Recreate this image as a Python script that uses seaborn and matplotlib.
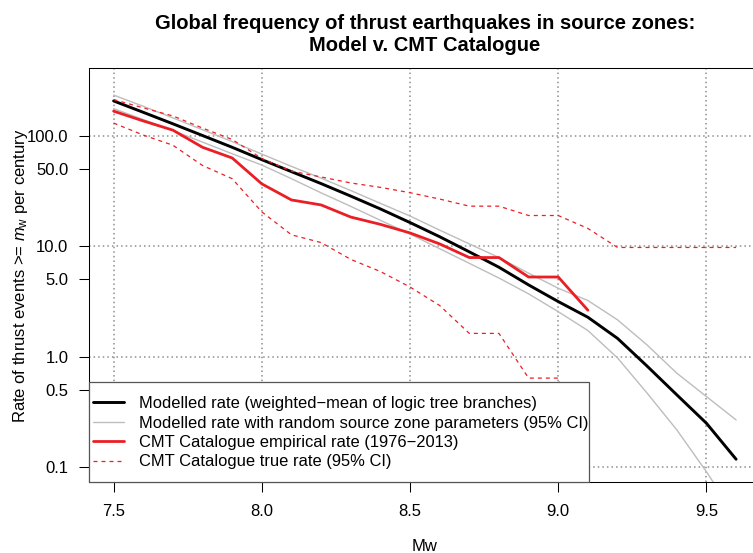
import numpy as np
import pandas as pd
import matplotlib
matplotlib.use("Agg")
import matplotlib.pyplot as plt
import seaborn as sns
from matplotlib.ticker import FixedLocator, FixedFormatter, NullLocator
from matplotlib.patches import Rectangle

# ---------------- data ----------------
mw = [7.5, 7.6, 7.7, 7.8, 7.9, 8.0, 8.1, 8.2, 8.3, 8.4, 8.5,
      8.6, 8.7, 8.8, 8.9, 9.0, 9.1, 9.2, 9.3, 9.4, 9.5, 9.6]
model_rate = [208, 164, 129, 101, 79, 61, 47.5, 37, 28.5, 21.8, 16.4,
              12.2, 8.9, 6.45, 4.46, 3.15, 2.27, 1.46, 0.817, 0.449, 0.248, 0.117]
model_upper = [235, 186, 146, 114, 89, 68.5, 53, 41.5, 32, 24.5, 18.8,
               14.0, 10.5, 7.9, 5.7, 4.16, 3.22, 2.15, 1.27, 0.706, 0.433, 0.266]
model_lower = [177, 141, 112, 88, 69, 54.5, 41, 30.5, 23, 17.2, 12.9,
               9.5, 7.0, 5.15, 3.7, 2.55, 1.72, 0.97, 0.465, 0.216, 0.09, 0.035]
cmt_rate = [168, 137, 113, 79, 63.2, 36.8, 26.3, 23.7, 18.4, 15.8, 13.2,
            10.5, 7.9, 7.9, 5.26, 5.26, 2.63, np.nan, np.nan, np.nan, np.nan, np.nan]
cmt_upper = [214, 180, 152, 118, 93, 62.5, 48, 42.5, 37.5, 34.2, 30.6,
             26.8, 23.1, 23.1, 19.0, 19.0, 14.5, 9.75, 9.75, 9.75, 9.75, 9.75]
cmt_lower = [131, 102, 82.5, 54, 41, 20.5, 12.7, 10.8, 7.6, 5.9, 4.27,
             2.9, 1.62, 1.62, 0.637, 0.637, 0.067, np.nan, np.nan, np.nan, np.nan, np.nan]

x_ticks = [7.5, 8.0, 8.5, 9.0, 9.5]
x_tick_labels = ["7.5", "8.0", "8.5", "9.0", "9.5"]
y_major = [0.1, 1, 10, 100]
y_major_labels = ["0.1", "1.0", "10.0", "100.0"]
y_minor = [0.5, 5, 50]
y_minor_labels = ["0.5", "5.0", "50.0"]

labels = ["Modelled rate (weighted\u2212mean of logic tree branches)",
          "Modelled rate with random source zone parameters (95% CI)",
          "CMT Catalogue empirical rate (1976\u22122013)",
          "CMT Catalogue true rate (95% CI)"]

df = pd.DataFrame({"mw": mw, "model": model_rate, "m_up": model_upper,
                   "m_lo": model_lower, "cmt": cmt_rate, "c_up": cmt_upper,
                   "c_lo": cmt_lower})

# ---------------- style ----------------
sns.set_style("ticks")
plt.rcParams["font.family"] = ["Liberation Sans", "DejaVu Sans"]
plt.rcParams["mathtext.fontset"] = "custom"
plt.rcParams["mathtext.rm"] = "Liberation Sans"
plt.rcParams["mathtext.it"] = "Liberation Sans:italic"
for k in ["text.color", "axes.labelcolor", "xtick.color", "ytick.color",
          "axes.edgecolor"]:
    plt.rcParams[k] = "black"
plt.rcParams["axes.linewidth"] = 0.75

W, H = 753, 553
fig = plt.figure(figsize=(W / 100, H / 100), dpi=100)
left_px, right_px, top_px, bot_px = 88.7, 761.0, 68.3, 482.3
ax = fig.add_axes([left_px / W, 1 - bot_px / H,
                   (right_px - left_px) / W, (bot_px - top_px) / H])
ax.set_yscale("log")

GRAY = "#BDBDBD"
RED = "#EA1F25"

sns.lineplot(data=df, x="mw", y="m_up", ax=ax, color=GRAY, lw=1.0,
             label=labels[1], zorder=2)
sns.lineplot(data=df, x="mw", y="m_lo", ax=ax, color=GRAY, lw=1.0,
             label="_nolegend_", zorder=2)
sns.lineplot(data=df, x="mw", y="model", ax=ax, color="black", lw=2.1,
             label=labels[0], zorder=3)
sns.lineplot(data=df, x="mw", y="cmt", ax=ax, color=RED, lw=2.0,
             label=labels[2], zorder=3)
sns.lineplot(data=df, x="mw", y="c_up", ax=ax, color=RED, lw=0.9,
             linestyle=(0, (3.2, 3.2)), label=labels[3], zorder=3)
sns.lineplot(data=df, x="mw", y="c_lo", ax=ax, color=RED, lw=0.9,
             linestyle=(0, (3.2, 3.2)), label="_nolegend_", zorder=3)

ax.set_xlim(7.416, 9.684)
ax.set_ylim(10 ** -1.141, 10 ** 2.614)

ax.xaxis.set_major_locator(FixedLocator(x_ticks))
ax.xaxis.set_major_formatter(FixedFormatter(x_tick_labels))
ax.xaxis.set_minor_locator(NullLocator())
ax.yaxis.set_major_locator(FixedLocator(y_major))
ax.yaxis.set_major_formatter(FixedFormatter(y_major_labels))
ax.yaxis.set_minor_locator(FixedLocator(y_minor))
ax.yaxis.set_minor_formatter(FixedFormatter(y_minor_labels))

fs = 12
ax.tick_params(axis="both", which="both", direction="out", length=7.4,
               width=0.75, labelsize=fs, colors="black")
ax.tick_params(axis="y", which="both", pad=7.2)
ax.tick_params(axis="x", which="both", pad=8.2)

ax.grid(True, which="major", color="#8E8E8E", linestyle=(0, (1, 2)), lw=1.1)
ax.set_axisbelow(True)
for s in ax.spines.values():
    s.set_linewidth(0.75)
    s.set_color("black")

ax.set_title("Global frequency of thrust earthquakes in source zones:\nModel v. CMT Catalogue",
             fontsize=14.5, fontweight="bold", pad=12.5, linespacing=1.2)
ax.set_xlabel("Mw", fontsize=fs, labelpad=14.5)
ax.set_ylabel("Rate of thrust events >= $m_\\mathrm{w}$ per century",
              fontsize=fs)
ax.yaxis.set_label_coords((30.0 - left_px) / (right_px - left_px), 0.5)

# legend box
box_w = (589.0 - left_px) / (right_px - left_px)
box_h = (bot_px - 382.3) / (bot_px - top_px)
ax.add_patch(Rectangle((0, 0), box_w, box_h, transform=ax.transAxes,
                       facecolor="white", edgecolor="#555555", lw=0.9,
                       zorder=4, clip_on=False))

handles, labs = ax.get_legend_handles_labels()
order = [labs.index(l) for l in labels]
lfs = 11.85
pxfs = lfs * 100 / 72
leg = ax.legend([handles[i] for i in order], [labs[i] for i in order],
                loc="center left",
                bbox_to_anchor=(4.0 / (right_px - left_px),
                                (bot_px - 432.8) / (bot_px - top_px)),
                frameon=False, fontsize=lfs, borderpad=0, borderaxespad=0,
                handlelength=31 / pxfs, handletextpad=15 / pxfs,
                labelspacing=0.27)
leg.set_zorder(5)

fig.savefig("out.png", dpi=100)
